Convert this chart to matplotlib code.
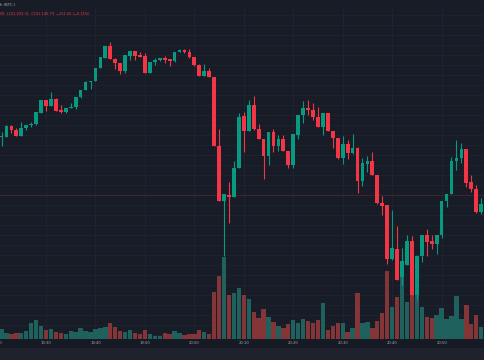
import matplotlib
matplotlib.use("Agg")
import matplotlib.pyplot as plt
from matplotlib.patches import Rectangle

# ---- data (price levels in chart units, 1-minute candles from 19:21) ----
opens = [223, 223.5, 234.3, 230, 224.3, 232.3, 234.7, 235.7, 247.3, 260,
         254.3, 261.3, 250, 247.7, 252, 252.7, 262.7, 270, 278.3, 279.3,
         292, 302.3, 314, 301.5, 296.7, 289.3, 304.5, 308.8, 304.8, 303.7,
         287.2, 297.8, 299.7, 301.8, 300.7, 298.8, 308, 309.7, 308, 302.7,
         295.5, 284.5, 289.5, 283.3, 214, 159, 165.3, 163.3, 192, 244,
         229, 255, 230.7, 221, 204.3, 227.7, 214.3, 221, 209.3, 195,
         225, 245, 251.7, 250, 242.7, 233.2, 247.2, 229.3, 221.8, 202.3,
         216.5, 206.7, 212.5, 179, 196.5, 198.8, 185, 156.8, 154.8, 100.7,
         111, 83.3, 95, 118.8, 65.3, 104.3, 124.7, 119, 115.7, 125,
         159.3, 166, 198.8, 202.3, 210.7, 177.7, 171.5, 147.7, 155.7]
highs = [228, 235, 234.7, 232.3, 238, 235, 238, 248, 260.5, 260.5,
         267.7, 261.7, 254.7, 252, 257, 263, 270.3, 278.7, 279, 292.3,
         303, 314.3, 318.3, 301.7, 297, 305, 309, 309, 307.7, 307.5,
         298.3, 302, 302, 304.5, 300.8, 308, 311, 311.2, 310.8, 303,
         295.7, 295.8, 292, 283.5, 230.7, 166, 178.3, 199.5, 247.5, 248.3,
         260, 264.3, 235.8, 221.2, 228, 231, 225.5, 225, 209.5, 225.7,
         245, 259, 259.8, 256.7, 253.3, 247.3, 247.5, 229.5, 222, 224.5,
         219.7, 225.8, 212.7, 201.7, 204, 208.3, 185.2, 164.2, 155, 150,
         134.5, 112, 125, 123.7, 104.7, 124.8, 131, 125.3, 125.5, 159.2,
         166.2, 203, 220, 216.7, 211, 185.4, 175.5, 162, 156]
lows = [214, 223, 227, 224, 224, 230, 233, 235.3, 247, 249,
        254, 249, 247.3, 247.5, 251.7, 251, 262.3, 269.7, 271, 279,
        291.7, 302, 300.8, 291, 285.7, 286.7, 300.5, 300.5, 303.2, 287,
        287, 295.2, 299.3, 297, 294.5, 297.7, 307.8, 307.5, 302.5, 294.5,
        284.3, 284, 283, 213.7, 158.7, 104, 136.7, 163, 191.7, 208.3,
        228.7, 230.5, 220.8, 181.3, 194.7, 207.7, 209, 209, 191.7, 191.7,
        220.8, 237.3, 245.5, 240, 233, 225, 229, 211.7, 200.8, 195.7,
        200.8, 206.5, 167.5, 174.3, 188, 184.8, 156.5, 145, 95.8, 100.5,
        79.8, 75, 94.7, 65, 60, 98.3, 104.3, 111, 105.7, 121.7,
        153.3, 165.8, 190.5, 197.3, 173.3, 168.3, 147.5, 146, 153]
closes = [224, 234.3, 230, 224.3, 232.3, 234.7, 236, 247.7, 260, 254.3,
          261.3, 249.3, 247.7, 252, 253, 262.7, 270, 278.3, 279, 292,
          302.7, 314, 301.3, 296.7, 289.3, 305, 309, 304.2, 303.3, 287.2,
          298, 300, 301.8, 300, 299, 308, 309.7, 307.7, 302.7, 295,
          284.5, 289.3, 283.3, 214, 159, 166, 163.3, 192, 243, 229,
          255, 230.7, 221, 204.3, 227.7, 214.3, 221, 209.3, 195.2, 225.7,
          245, 251.7, 250, 242.7, 233.3, 247.2, 229.3, 221.8, 202.3, 216.5,
          206.7, 212.5, 179, 196.7, 198.8, 185, 156.7, 154.5, 101.2, 112.5,
          80, 99, 118.8, 65.3, 104.5, 124.7, 118.5, 115.7, 125.5, 159.2,
          166.2, 199, 202.3, 210.7, 177.3, 171.5, 147.7, 155.7, 153.3]
volumes = [9.7, 6, 4.7, 5.7, 6.3, 8, 16, 19, 13.3, 9,
           10, 7, 6.3, 5, 8, 6.7, 11, 8.3, 7, 9.7,
           11, 12.3, 15.7, 11.7, 8.3, 6.7, 9, 6, 4.7, 9,
           5.3, 3.3, 3.3, 5.7, 5.3, 7.7, 5.7, 3.7, 4.7, 4.7,
           9, 7.5, 5, 47.3, 63, 82.5, 44, 45.8, 50.7, 44,
           40, 26.7, 20.8, 30.3, 21.8, 17.3, 12.8, 11, 15, 18.7,
           16.3, 19.7, 17.7, 16, 19, 35.7, 9, 13, 16.3, 15.7,
           7.2, 11, 45.8, 16.3, 16.8, 11.3, 18, 25.7, 68.2, 32.2,
           42.2, 63, 36.7, 64.7, 45.3, 32.2, 22.2, 20.7, 23.7, 31.3,
           20.2, 23.5, 42.8, 20.2, 33.7, 14.8, 23.7, 11.8, 17]
tick_index = [-1, 9, 19, 29, 39, 49, 59, 69, 79, 89]
tick_labels = ["19:20", "19:30", "19:40", "19:50", "20:00", "20:10",
               "20:20", "20:30", "20:40", "20:50"]
last_price_level = 165
title_text = "h (BTC-)"
ohlc_text = "08  L101,093.31  C101,145.79  \u2212151.65 (\u22120.15%)"

# ---- style ----
BG = "#181c27"
GRID = "#1f2331"
UP = "#089981"
DOWN = "#f23645"
UP_VOL = "#1f625d"
DOWN_VOL = "#833538"

W, H = 485, 360
fig = plt.figure(figsize=(W / 100, H / 100), dpi=100)
fig.patch.set_facecolor(BG)

step = 4.945
x0 = -1.5 / step
x1 = (W - 1.5) / step

# bottom time-axis band (behind everything)
fig.patches.append(Rectangle((0, 0), 1, (H - 339) / H, transform=fig.transFigure,
                             facecolor="#161a24", edgecolor="none", zorder=-2))
fig.patches.append(Rectangle((0, 0), 1, (H - 347.5) / H, transform=fig.transFigure,
                             facecolor="#1f222d", edgecolor="none", zorder=-1))

# background grid (drawn on the bottom-most layer)
axg = fig.add_axes([0, 0, 1, 1])
axg.set_zorder(0)
axg.patch.set_visible(False)
axg.set_xlim(x0, x1)
axg.set_ylim(0, H)
axg.axis("off")
for lv in range(25, 350, 10):
    axg.axhline(lv, color=GRID, lw=0.7)
for ti in tick_index:
    axg.vlines(ti, H - 339, H - 8, color=GRID, lw=0.8)
axg.axhline(last_price_level, color="#3a2531", lw=0.8)

# volume pane (baseline at pixel row 339 from the top, 100 px tall)
axv = fig.add_axes([0, (H - 339) / H, 1, 100 / H])
axv.set_zorder(1)
axv.patch.set_visible(False)
axv.set_xlim(x0, x1)
axv.set_ylim(0, 100)
axv.axis("off")

ax = fig.add_axes([0, 0, 1, 1])
ax.set_zorder(2)
ax.patch.set_visible(False)
ax.set_xlim(x0, x1)
ax.set_ylim(0, H)
ax.axis("off")

n = len(opens)
idx = list(range(n))
up = [c >= o for o, c in zip(opens, closes)]

# volume
axv.bar(idx, volumes, width=0.88,
        color=[UP_VOL if u else DOWN_VOL for u in up], linewidth=0)

# candles
cols = [UP if u else DOWN for u in up]
ax.vlines(idx, lows, highs, colors=cols, lw=0.8)
bottoms = [min(o, c) for o, c in zip(opens, closes)]
heights = [max(abs(c - o), 0.8) for o, c in zip(opens, closes)]
ax.bar(idx, heights, bottom=bottoms, width=0.76, color=cols, linewidth=0)

# time labels
for ti, lab in zip(tick_index, tick_labels):
    ax.text(ti, H - 343.3, lab, ha="center", va="center", fontsize=2.7,
            color="#a3a6af", zorder=5, clip_on=False)

# header texts
fig.text(0.0, 1 - 4.8 / H, title_text, ha="left", va="center",
         fontsize=2.7, color="#b2b5be")
fig.text(0.0, 1 - 14.0 / H, ohlc_text, ha="left", va="center",
         fontsize=2.5, color=DOWN)

fig.savefig("out.png", dpi=100, facecolor=BG)
